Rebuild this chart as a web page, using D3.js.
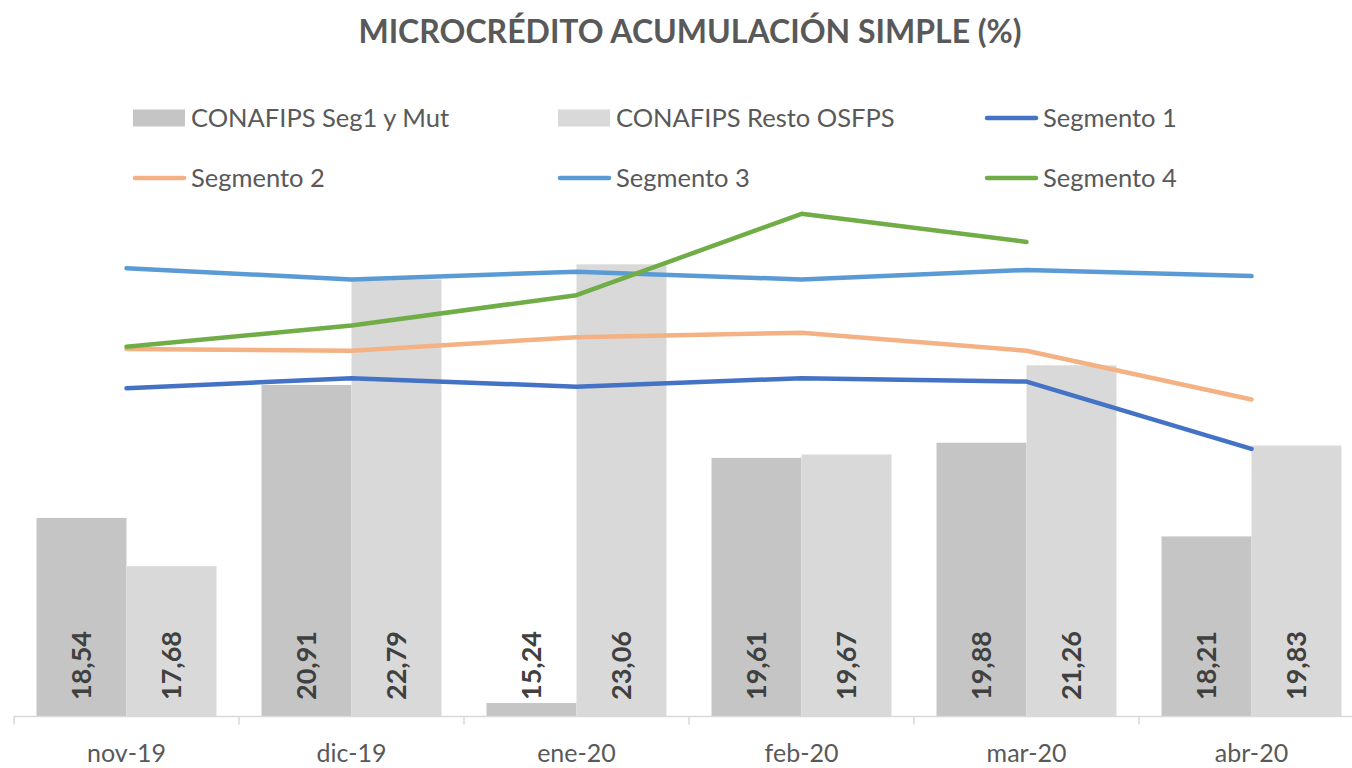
<!DOCTYPE html>
<html>
<head>
<meta charset="utf-8">
<script src="https://cdn.jsdelivr.net/npm/d3@7"></script>
<style>
  body { margin: 0; background: #fff; }
  text { font-family: Lato, "Open Sans", sans-serif; }
</style>
</head>
<body>
<script>
// data
var months = ["nov-19", "dic-19", "ene-20", "feb-20", "mar-20", "abr-20"];
var conafipsSeg1 = [18.54, 20.91, 15.24, 19.61, 19.88, 18.21];
var conafipsResto = [17.68, 22.79, 23.06, 19.67, 21.26, 19.83];
var segmento1 = [20.85, 21.03, 20.88, 21.03, 20.97, 19.77];
var segmento2 = [21.55, 21.52, 21.76, 21.84, 21.52, 20.65];
var segmento3 = [22.99, 22.79, 22.93, 22.79, 22.96, 22.85];
var segmento4 = [21.59, 21.97, 22.51, 23.96, 23.46, null];

var width = 1352, height = 768;

var svg = d3.select("body").append("svg")
  .attr("width", width)
  .attr("height", height);

var x = d3.scaleBand()
  .domain(months)
  .range([14, 1364]);

var barSeries = [
  { name: "CONAFIPS Seg1 y Mut", values: conafipsSeg1, color: "#c5c5c5" },
  { name: "CONAFIPS Resto OSFPS", values: conafipsResto, color: "#d9d9d9" }
];

var lineSeries = [
  { name: "Segmento 1", values: segmento1, color: "#4472c4" },
  { name: "Segmento 2", values: segmento2, color: "#f4b183" },
  { name: "Segmento 3", values: segmento3, color: "#5b9bd5" },
  { name: "Segmento 4", values: segmento4, color: "#70ad47" }
];

var x1 = d3.scaleBand()
  .domain([0, 1])
  .range([x.bandwidth() * 0.1, x.bandwidth() * 0.9]);

var y = d3.scaleLinear()
  .domain([15, 25])
  .range([716.5, 155.5]);

// title
svg.append("text")
  .attr("x", 690)
  .attr("y", 43)
  .attr("text-anchor", "middle")
  .style("font-size", "32px")
  .style("font-weight", "bold")
  .style("fill", "#595959")
  .text("MICROCRÉDITO ACUMULACIÓN SIMPLE (%)");

// bars
var groups = svg.append("g").selectAll("g")
  .data(months)
  .enter().append("g")
  .attr("transform", function(d) { return "translate(" + x(d) + ",0)"; });

barSeries.forEach(function(s, si) {
  groups.append("rect")
    .attr("x", x1(si))
    .attr("width", x1.bandwidth())
    .attr("y", function(d, i) { return y(s.values[i]); })
    .attr("height", function(d, i) { return y(15) - y(s.values[i]); })
    .style("fill", s.color);
});

// axis
svg.append("line")
  .attr("x1", 14).attr("x2", 1364)
  .attr("y1", y(15)).attr("y2", y(15))
  .style("stroke", "#d9d9d9")
  .style("stroke-width", 1.5);

svg.append("g").selectAll("line")
  .data(months.concat(["end"]))
  .enter().append("line")
  .attr("x1", function(d, i) { return 14 + i * x.bandwidth(); })
  .attr("x2", function(d, i) { return 14 + i * x.bandwidth(); })
  .attr("y1", y(15))
  .attr("y2", y(15) + 8)
  .style("stroke", "#d9d9d9")
  .style("stroke-width", 1.5);

svg.append("g").selectAll("text")
  .data(months)
  .enter().append("text")
  .attr("x", function(d) { return x(d) + x.bandwidth() / 2; })
  .attr("y", 762)
  .attr("text-anchor", "middle")
  .style("font-size", "25px")
  .style("fill", "#595959")
  .text(function(d) { return d; });

// lines
var line = d3.line()
  .defined(function(d) { return d != null; })
  .x(function(d, i) { return x(months[i]) + x.bandwidth() / 2; })
  .y(function(d) { return y(d); });

lineSeries.forEach(function(s) {
  svg.append("path")
    .datum(s.values)
    .attr("d", line)
    .style("fill", "none")
    .style("stroke", s.color)
    .style("stroke-width", 4.5)
    .style("stroke-linecap", "round")
    .style("stroke-linejoin", "round");
});

// data labels (drawn over lines, like the original)
barSeries.forEach(function(s, si) {
  groups.append("text")
    .attr("transform", function(d, i) {
      return "translate(" + (x1(si) + x1.bandwidth() / 2) + ",700) rotate(-90)";
    })
    .attr("dy", "0.36em")
    .style("font-size", "27px")
    .style("font-weight", "bold")
    .style("fill", "#404040")
    .text(function(d, i) { return d3.format(".2f")(s.values[i]).replace(".", ","); });
});

// legend
var legendItems = barSeries.map(function(s) { return { name: s.name, color: s.color, type: "bar" }; })
  .concat(lineSeries.map(function(s) { return { name: s.name, color: s.color, type: "line" }; }));
var legendX = [133, 558, 985];
var legendY = [118, 178];

var leg = svg.append("g").selectAll("g")
  .data(legendItems)
  .enter().append("g")
  .attr("transform", function(d, i) {
    return "translate(" + legendX[i % 3] + "," + legendY[Math.floor(i / 3)] + ")";
  });

leg.filter(function(d) { return d.type === "bar"; })
  .append("rect")
  .attr("x", 0).attr("y", -8.5)
  .attr("width", 52).attr("height", 17)
  .style("fill", function(d) { return d.color; });

leg.filter(function(d) { return d.type === "line"; })
  .append("line")
  .attr("x1", 2).attr("x2", 51)
  .attr("y1", 0).attr("y2", 0)
  .style("stroke", function(d) { return d.color; })
  .style("stroke-width", 4.5)
  .style("stroke-linecap", "round");

leg.append("text")
  .attr("x", 58)
  .attr("dy", "0.36em")
  .style("font-size", "25.5px")
  .style("fill", "#595959")
  .text(function(d) { return d.name; });
</script>
</body>
</html>
